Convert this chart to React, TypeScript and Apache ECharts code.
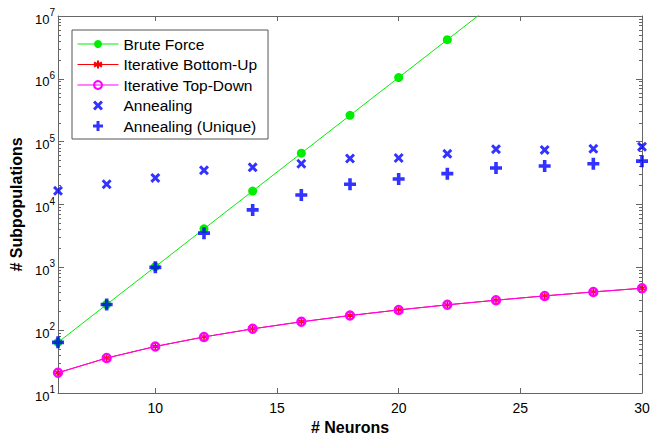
import React, { useEffect, useRef } from "react";
import * as echarts from "echarts";

const neurons = [6, 8, 10, 12, 14, 16, 18, 20, 22, 24, 26, 28, 30];
const bruteX = [6, 8, 10, 12, 14, 16, 18, 20, 22, 24];
const bruteForce = [64, 256, 1024, 4096, 16384, 65536, 262144, 1048576, 4194304, 16777216];
const bottomUp = [21, 36, 55, 78, 105, 136, 171, 210, 253, 300, 351, 406, 465];
const topDown = [21, 36, 55, 78, 105, 136, 171, 210, 253, 300, 351, 406, 465];
const annealing = [16500, 21000, 26500, 35000, 39000, 44500, 54000, 55000, 64000, 76000, 74000, 77000, 83000];
const annealingUnique = [64, 256, 1000, 3500, 8200, 14200, 21000, 25500, 31000, 38000, 41000, 44500, 49000];

const xTicks = [10, 15, 20, 25, 30];
const yTicks = [10, 100, 1000, 10000, 100000, 1000000, 10000000];
const yMinor: number[] = [];
for (let d = 10; d < 1e7; d *= 10) {
  for (let k = 2; k <= 9; k++) yMinor.push(d * k);
}

const pairs = (xs: number[], ys: number[]) => xs.map((x, i) => [x, ys[i]]);

const SYM_X =
  "path://M0,2.1L2.1,0L5,2.9L7.9,0L10,2.1L7.1,5L10,7.9L7.9,10L5,7.1L2.1,10L0,7.9L2.9,5Z";
const SYM_PLUS = "path://M3.5,0h3v3.5h3.5v3h-3.5v3.5h-3v-3.5h-3.5v-3h3.5z";
const SYM_AST = "path://M5,0L5,10M0.67,2.5L9.33,7.5M0.67,7.5L9.33,2.5";

const FONT = "Liberation Sans, Arial, Helvetica, sans-serif";
const AXIS_COLOR = "#666";

export default function App() {
  const ref = useRef<HTMLDivElement>(null);
  useEffect(() => {
    if (!ref.current) return;
    const chart = echarts.init(ref.current, undefined, { renderer: "svg" });
    const baseX = {
      type: "value" as const,
      min: 6,
      max: 30,
      splitLine: { show: false },
      axisLine: { lineStyle: { color: AXIS_COLOR, width: 1 } },
      axisTick: { inside: true, length: 5, customValues: xTicks, lineStyle: { color: AXIS_COLOR } },
    };
    const baseY = {
      type: "log" as const,
      logBase: 10,
      min: 10,
      max: 1e7,
      splitLine: { show: false },
      minorTick: { show: false },
    };
    chart.setOption({
      animation: false,
      grid: { left: 58, right: 9, top: 16, bottom: 42, containLabel: false, outerBoundsMode: "none" },
      legend: {
        orient: "vertical",
        left: 72,
        top: 30,
        padding: [6, 11, 5, 5],
        itemGap: 4.5,
        itemWidth: 41,
        itemHeight: 10,
        borderColor: "#555",
        borderWidth: 1,
        backgroundColor: "#fff",
        lineStyle: { width: 1 },
        textStyle: { fontFamily: FONT, fontSize: 15.5, color: "#000", lineHeight: 16 },
        data: [
          "Brute Force",
          "Iterative Bottom-Up",
          "Iterative Top-Down",
          "Annealing",
          "Annealing (Unique)",
        ],
      },
      xAxis: [
        {
          ...baseX,
          position: "bottom",
          name: "# Neurons",
          nameLocation: "middle",
          nameGap: 26,
          nameTextStyle: {
            fontFamily: FONT,
            fontSize: 16,
            lineHeight: 16,
            fontWeight: "bold",
            color: "#000",
          },
          axisLabel: {
            customValues: xTicks,
            fontFamily: FONT,
            fontSize: 14,
            color: "#000",
            margin: 8,
          },
        },
        {
          ...baseX,
          position: "top",
          axisLabel: { show: false },
        },
      ],
      yAxis: [
        {
          ...baseY,
          position: "left",
          name: "# Subpopulations",
          nameLocation: "middle",
          nameGap: 33,
          nameRotate: 90,
          nameTextStyle: { fontFamily: FONT, fontSize: 16, fontWeight: "bold", color: "#000" },
          axisLine: { lineStyle: { color: AXIS_COLOR } },
          axisTick: { inside: true, length: 6, customValues: yTicks, lineStyle: { color: AXIS_COLOR } },
          axisLabel: {
            customValues: yTicks,
            margin: 3,
            formatter: (v: number) => `{b|10}{e|${Math.round(Math.log10(v))}}`,
            rich: {
              b: { fontFamily: FONT, fontSize: 13, color: "#000", padding: [6, 0, 0, 0] },
              e: { fontFamily: FONT, fontSize: 10, color: "#000", padding: [0, 0, 7, 0] },
            },
          },
        },
        {
          ...baseY,
          position: "right",
          axisLine: { lineStyle: { color: AXIS_COLOR } },
          axisTick: { inside: true, length: 6, customValues: yTicks, lineStyle: { color: AXIS_COLOR } },
          axisLabel: { show: false },
        },
        {
          ...baseY,
          position: "left",
          axisLine: { show: false },
          axisTick: { inside: true, length: 3, customValues: yMinor, lineStyle: { color: AXIS_COLOR } },
          axisLabel: { show: false },
        },
        {
          ...baseY,
          position: "right",
          axisLine: { show: false },
          axisTick: { inside: true, length: 3, customValues: yMinor, lineStyle: { color: AXIS_COLOR } },
          axisLabel: { show: false },
        },
      ],
      series: [
        {
          name: "Brute Force",
          type: "line",
          data: pairs(bruteX, bruteForce),
          symbol: "circle",
          symbolSize: 9,
          clip: true,
          lineStyle: { color: "#00ee00", width: 1 },
          itemStyle: { color: "#00ee00" },
          z: 2,
        },
        {
          name: "Iterative Bottom-Up",
          type: "line",
          data: pairs(neurons, bottomUp),
          symbol: SYM_AST,
          symbolSize: 7,
          lineStyle: { color: "#ff0000", width: 1 },
          itemStyle: { color: "#ff0000", borderColor: "#ff0000", borderWidth: 1.5 },
          z: 3,
        },
        {
          name: "Iterative Top-Down",
          type: "line",
          data: pairs(neurons, topDown),
          symbol: "circle",
          symbolSize: 8,
          lineStyle: { color: "#ff00ff", width: 1 },
          itemStyle: { color: "rgba(255,255,255,0)", borderColor: "#ff00ff", borderWidth: 2.4 },
          z: 4,
        },
        {
          name: "Annealing",
          type: "scatter",
          data: pairs(neurons, annealing),
          symbol: SYM_X,
          symbolSize: 10,
          itemStyle: { color: "#0000ff" },
          z: 5,
        },
        {
          name: "Annealing (Unique)",
          type: "scatter",
          data: pairs(neurons, annealingUnique),
          symbol: SYM_PLUS,
          symbolSize: 12,
          itemStyle: { color: "#0000ff" },
          z: 6,
        },
      ],
    });
    return () => chart.dispose();
  }, []);
  return (
    <div
      ref={ref}
      style={{ position: "fixed", left: 0, top: 0, width: 651, height: 435, background: "#fff" }}
    />
  );
}
